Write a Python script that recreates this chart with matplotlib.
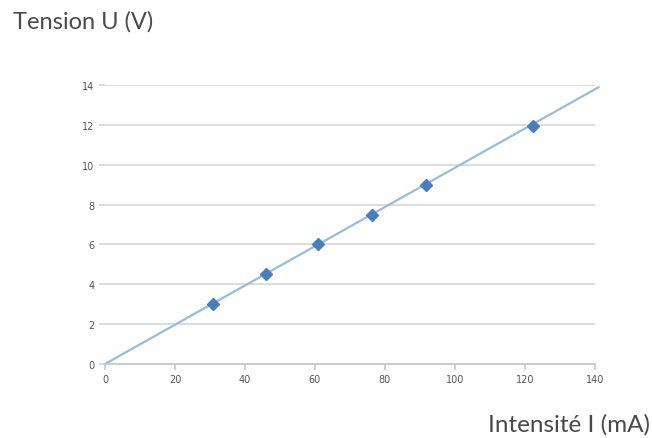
import matplotlib
matplotlib.use("Agg")
import matplotlib.pyplot as plt
import numpy as np

current_mA = [30.8, 45.9, 61.0, 76.3, 91.8, 122.4]
voltage_V = [3.0, 4.5, 6.0, 7.5, 9.0, 11.95]
fit_x = [0, 141]
slope = 0.0985
x_ticks = [0, 20, 40, 60, 80, 100, 120, 140]
y_ticks = [0, 2, 4, 6, 8, 10, 12, 14]

fig = plt.figure(figsize=(6.52, 4.39), dpi=100)
ax = fig.add_axes([0.161, 0.1686, 0.7516, 0.6354])
ax.set_xlim(0, 140)
ax.set_ylim(0, 14)
ax.set_xticks(x_ticks)
ax.set_yticks(y_ticks)
ax.grid(axis="y", color="#d9d9d9", linewidth=1.3)
ax.set_axisbelow(True)
for s in ["top", "right", "left"]:
    ax.spines[s].set_visible(False)
ax.spines["bottom"].set_color("#c8c8c8")
ax.spines["bottom"].set_linewidth(1.3)
ax.tick_params(axis="x", colors="#c8c8c8", labelcolor="#555555", labelsize=7, length=4, width=1.2)
ax.tick_params(axis="y", colors="#d9d9d9", labelcolor="#555555", labelsize=7, length=4, width=1.3)

fx = np.array(fit_x, dtype=float)
ax.plot(fx, slope * fx, color="#95bde3", linewidth=1.6, clip_on=False, zorder=2)
ax.plot(current_mA, voltage_V, linestyle="none", marker="D", markersize=6.5,
        color="#4a7ebb", zorder=3, clip_on=False)

fig.text(0.02, 0.95, "Tension U (V)", fontsize=17, color="#4a4a4a",
         family=["Lato", "DejaVu Sans"], ha="left", va="center")
fig.text(0.997, 0.032, "Intensité I (mA)", fontsize=17.5, color="#4a4a4a",
         family=["Lato", "DejaVu Sans"], ha="right", va="center")

fig.savefig("out.png", dpi=100)
